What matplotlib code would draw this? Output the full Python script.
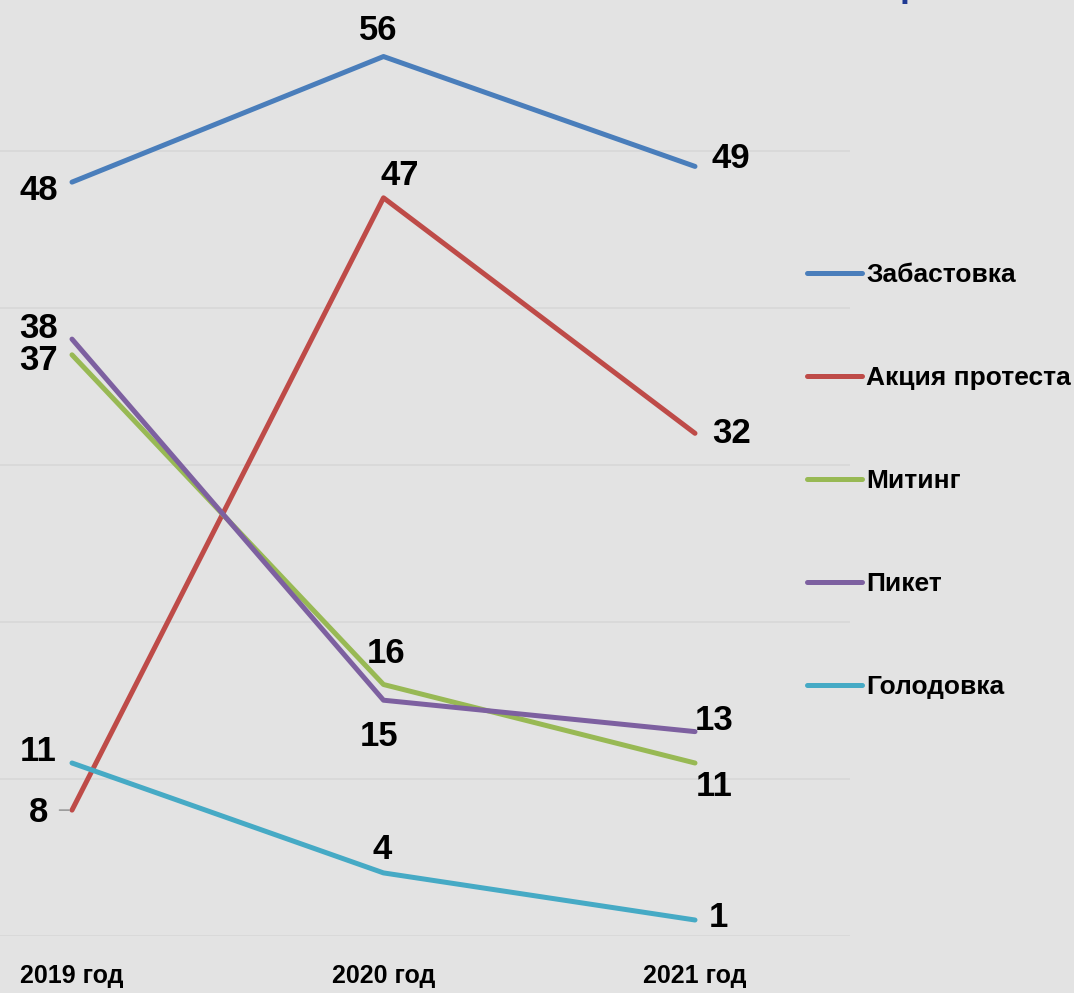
import matplotlib
matplotlib.use('Agg')
import matplotlib.pyplot as plt

# data
years = ['2019 год', '2020 год', '2021 год']
series_names = ['Забастовка', 'Акция протеста', 'Митинг', 'Пикет', 'Голодовка']
zabastovka = [48, 56, 49]
akciya = [8, 47, 32]
miting = [37, 16, 11]
piket = [38, 15, 13]
golodovka = [11, 4, 1]

colors = ['#4a7ebb', '#be4b48', '#98b954', '#7d60a0', '#46aac5']
# label offsets (points) for each value label, per series
offsets = [
    [(-24, -6), (-4, 19), (26, 6)],
    [(-24, -2), (12, 16), (26, 0)],
    [(-24, -4), (2, 22), (14, -17)],
    [(-24, 8), (-3, -26), (14, 8)],
    [(-24, 8), (-1, 17), (17, 2)],
]

BG = '#e3e3e3'
plt.rcParams['font.family'] = ['Liberation Sans Narrow', 'Liberation Sans', 'DejaVu Sans']
plt.rcParams['font.weight'] = 'bold'

fig = plt.figure(figsize=(10.74, 9.93), dpi=100, facecolor=BG)
ax = fig.add_axes([0.0, 0.0577, 850 / 1074, 0.9423])
ax.set_facecolor(BG)

x = list(range(len(years)))
all_series = [zabastovka, akciya, miting, piket, golodovka]
for name, vals, col, offs in zip(series_names, all_series, colors, offsets):
    ax.plot(x, vals, color=col, lw=3.6, solid_capstyle='round', label=name, zorder=3)
    for xi, v, off in zip(x, vals, offs):
        ax.annotate(str(v), (xi, v), xytext=off, textcoords='offset points',
                    ha='center', va='center', fontsize=25, fontweight='bold',
                    color='black', zorder=4)

# small leader line for the "8" label
ax.annotate('', xy=(0, akciya[0]), xytext=(-11, 0), textcoords='offset points',
            arrowprops=dict(arrowstyle='-', color='#999999', lw=1.2))

ax.set_xlim(-72 / 311.5, (850 - 72) / 311.5)
ax.set_ylim(0, 59.6)
ax.set_yticks(range(0, 60, 10))
ax.yaxis.grid(True, color='#d7d7d7', lw=1.2)
ax.set_axisbelow(True)
ax.tick_params(left=False, labelleft=False, bottom=False, labelbottom=False)
for s in ax.spines.values():
    s.set_visible(False)

# category labels under the plot
for xi, lab in zip(x, years):
    ax.annotate(lab, (xi, 0), xytext=(0, -29), textcoords='offset points',
                ha='center', va='center', fontsize=18, fontweight='bold')

leg = fig.legend(loc='upper left', bbox_to_anchor=(783 / 1074, 1 - 239 / 993),
                 frameon=False, handlelength=2.1, handletextpad=0.15,
                 labelspacing=3.0, prop={'weight': 'bold', 'size': 19})

# tiny cut-off fragment of a title at the top edge
fig.text(900 / 1074, 1 + 4.5 / 993, 'р', color='#1f3a93', fontsize=26, fontweight='bold',
         ha='left', va='baseline')

fig.savefig('out.png', dpi=100, facecolor=BG)
